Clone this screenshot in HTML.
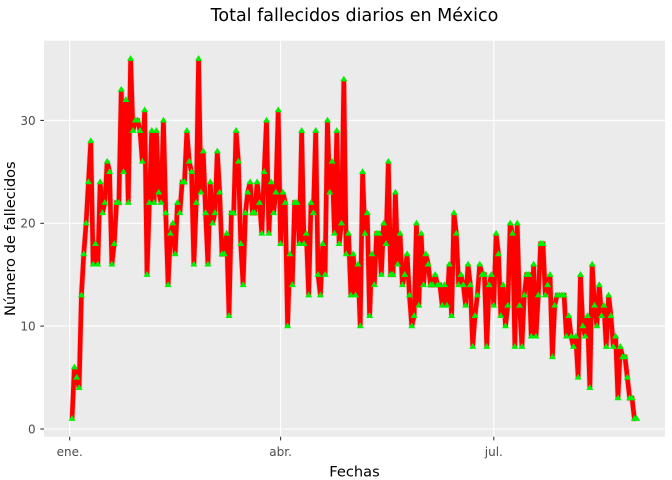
<!DOCTYPE html>
<html>
<head>
<meta charset="utf-8">
<style>
  html, body { margin: 0; padding: 0; background: #ffffff; }
  svg { display: block; }
  text { font-family: "DejaVu Sans", "Liberation Sans", sans-serif; }
</style>
</head>
<body>
<svg width="672" height="480" viewBox="0 0 672 480" xmlns="http://www.w3.org/2000/svg">
  <defs>
    <marker id="tri" markerUnits="userSpaceOnUse" markerWidth="1" markerHeight="1" refX="0" refY="0" orient="0" style="overflow:visible">
      <polygon points="0,0.36 1.5,-0.205 -1.5,-0.205" fill="#00F000"/>
    </marker>
  </defs>
  <rect x="0" y="0" width="672" height="480" fill="#ffffff"/>
  <!-- plot background -->
  <rect x="44" y="40.7" width="621" height="396" fill="#EBEBEB"/>
  <!-- gridlines -->
  <g stroke="#ffffff" stroke-width="1.1">
    <line x1="44" x2="665" y1="429" y2="429"/>
    <line x1="44" x2="665" y1="326.1" y2="326.1"/>
    <line x1="44" x2="665" y1="223.3" y2="223.3"/>
    <line x1="44" x2="665" y1="120.4" y2="120.4"/>
    <line x1="69.7" x2="69.7" y1="40.7" y2="436.7"/>
    <line x1="280.6" x2="280.6" y1="40.7" y2="436.7"/>
    <line x1="493.8" x2="493.8" y1="40.7" y2="436.7"/>
  </g>
  <!-- ticks -->
  <g stroke="#333333" stroke-width="1.07">
    <line x1="40.3" x2="44" y1="429" y2="429"/>
    <line x1="40.3" x2="44" y1="326.1" y2="326.1"/>
    <line x1="40.3" x2="44" y1="223.3" y2="223.3"/>
    <line x1="40.3" x2="44" y1="120.4" y2="120.4"/>
    <line x1="69.7" x2="69.7" y1="436.7" y2="440.4"/>
    <line x1="280.6" x2="280.6" y1="436.7" y2="440.4"/>
    <line x1="493.8" x2="493.8" y1="436.7" y2="440.4"/>
  </g>
  <!-- tick labels -->
  <g fill="#4D4D4D" font-size="12">
    <text x="35.6" y="433.4" text-anchor="end">0</text>
    <text x="35.6" y="330.5" text-anchor="end">10</text>
    <text x="35.6" y="227.7" text-anchor="end">20</text>
    <text x="35.6" y="124.8" text-anchor="end">30</text>
    <text x="69.7" y="456" text-anchor="middle">ene.</text>
    <text x="280.6" y="456" text-anchor="middle">abr.</text>
    <text x="493.8" y="456" text-anchor="middle">jul.</text>
  </g>
  <!-- data -->
  <g transform="translate(69.7,429) scale(2.343,-10.286)">
    <path fill="none" stroke="#FF0000" stroke-opacity="0.18" stroke-width="6" vector-effect="non-scaling-stroke" d="M1 1 L2 6 3 5 4 4 5 13 6 17 7 20 8 24 9 28 10 16 11 18 12 16 13 24 14 21 15 22 16 26 17 25 18 16 19 18 20 22 21 22 22 33 23 25 24 32 25 22 26 36 27 29 28 30 29 30 30 29 31 26 32 31 33 15 34 22 35 29 36 22 37 29 38 23 39 22 40 30 41 21 42 14 43 19 44 20 45 17 46 22 47 21 48 24 49 24 50 29 51 26 52 25 53 16 54 22 55 36 56 23 57 27 58 21 59 16 60 24 61 20 62 21 63 27 64 23 65 17 66 17 67 19 68 11 69 21 70 21 71 29 72 26 73 18 74 14 75 21 76 23 77 24 78 21 79 21 80 24 81 22 82 19 83 25 84 30 85 19 86 24 87 21 88 23 89 31 90 18 91 23 92 22 93 10 94 17 95 14 96 22 97 22 98 18 99 29 100 18 101 19 102 13 103 22 104 21 105 29 106 15 107 13 108 18 109 15 110 30 111 23 112 26 113 19 114 29 115 18 116 20 117 34 118 17 119 19 120 13 121 17 122 13 123 16 124 10 125 25 126 19 127 21 128 11 129 17 130 14 131 19 132 19 133 15 134 20 135 18 136 26 137 15 138 15 139 23 140 16 141 19 142 14 143 15 144 17 145 13 146 10 147 11 148 20 149 12 150 19 151 14 152 17 153 16 154 14 155 14 156 15 157 14 158 14 159 12 160 14 161 12 162 16 163 11 164 21 165 19 166 14 167 15 168 14 169 12 170 16 171 14 172 8 173 11 174 13 175 16 176 15 177 15 178 8 179 14 180 15 181 12 182 19 183 17 184 11 185 14 186 10 187 12 188 20 189 19 190 8 191 20 192 12 193 8 194 13 195 15 196 15 197 9 198 16 199 9 200 13 201 18 202 18 203 13 204 14 205 15 206 7 207 12 208 13 209 13 210 13 211 13 212 9 213 11 214 9 215 8 216 9 217 5 218 15 219 10 220 9 221 11 222 4 223 16 224 12 225 10 226 14 227 11 228 12 229 8 230 13 231 11 232 8 233 9 234 3 235 8 236 7 237 7 238 5 239 3 240 3 241 1 242 1"/>
    <path fill="none" stroke="#FF0000" stroke-width="4.6" vector-effect="non-scaling-stroke" marker-start="url(#tri)" marker-mid="url(#tri)" marker-end="url(#tri)" d="M1 1 L2 6 3 5 4 4 5 13 6 17 7 20 8 24 9 28 10 16 11 18 12 16 13 24 14 21 15 22 16 26 17 25 18 16 19 18 20 22 21 22 22 33 23 25 24 32 25 22 26 36 27 29 28 30 29 30 30 29 31 26 32 31 33 15 34 22 35 29 36 22 37 29 38 23 39 22 40 30 41 21 42 14 43 19 44 20 45 17 46 22 47 21 48 24 49 24 50 29 51 26 52 25 53 16 54 22 55 36 56 23 57 27 58 21 59 16 60 24 61 20 62 21 63 27 64 23 65 17 66 17 67 19 68 11 69 21 70 21 71 29 72 26 73 18 74 14 75 21 76 23 77 24 78 21 79 21 80 24 81 22 82 19 83 25 84 30 85 19 86 24 87 21 88 23 89 31 90 18 91 23 92 22 93 10 94 17 95 14 96 22 97 22 98 18 99 29 100 18 101 19 102 13 103 22 104 21 105 29 106 15 107 13 108 18 109 15 110 30 111 23 112 26 113 19 114 29 115 18 116 20 117 34 118 17 119 19 120 13 121 17 122 13 123 16 124 10 125 25 126 19 127 21 128 11 129 17 130 14 131 19 132 19 133 15 134 20 135 18 136 26 137 15 138 15 139 23 140 16 141 19 142 14 143 15 144 17 145 13 146 10 147 11 148 20 149 12 150 19 151 14 152 17 153 16 154 14 155 14 156 15 157 14 158 14 159 12 160 14 161 12 162 16 163 11 164 21 165 19 166 14 167 15 168 14 169 12 170 16 171 14 172 8 173 11 174 13 175 16 176 15 177 15 178 8 179 14 180 15 181 12 182 19 183 17 184 11 185 14 186 10 187 12 188 20 189 19 190 8 191 20 192 12 193 8 194 13 195 15 196 15 197 9 198 16 199 9 200 13 201 18 202 18 203 13 204 14 205 15 206 7 207 12 208 13 209 13 210 13 211 13 212 9 213 11 214 9 215 8 216 9 217 5 218 15 219 10 220 9 221 11 222 4 223 16 224 12 225 10 226 14 227 11 228 12 229 8 230 13 231 11 232 8 233 9 234 3 235 8 236 7 237 7 238 5 239 3 240 3 241 1 242 1"/>
  </g>
  <!-- titles -->
  <text x="354.5" y="21" text-anchor="middle" font-size="17.53" fill="#000000">Total fallecidos diarios en México</text>
  <text x="354.5" y="476.5" text-anchor="middle" font-size="14.61" fill="#000000">Fechas</text>
  <text transform="translate(15,238.7) rotate(-90)" text-anchor="middle" font-size="14.61" fill="#000000">Número de fallecidos</text>
</svg>
</body>
</html>
